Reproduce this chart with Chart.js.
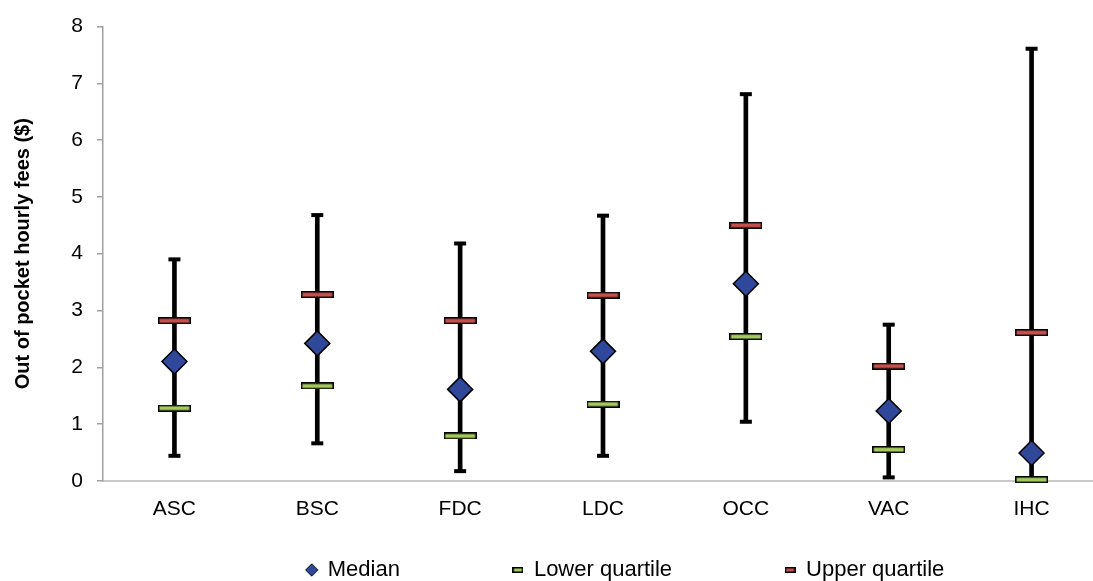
<!DOCTYPE html>
<html>
<head>
<meta charset="utf-8">
<title>Out of pocket hourly fees</title>
<script src="https://cdn.jsdelivr.net/npm/chart.js@4.4.1/dist/chart.umd.min.js"></script>
<style>
    html, body { margin: 0; padding: 0; background: #fff; overflow: hidden; }
    #wrap { width: 1093px; height: 581px; overflow: hidden; }
</style>
</head>
<body>
<div id="wrap"><canvas id="chartFees" width="1103" height="581"></canvas></div>
<script>
const categories = ['ASC', 'BSC', 'FDC', 'LDC', 'OCC', 'VAC', 'IHC'];
const minimums = [0.44, 0.66, 0.17, 0.44, 1.04, 0.06, 0.00];
const maximums = [3.90, 4.68, 4.18, 4.67, 6.81, 2.75, 7.61];
const lowerQuartile = [1.28, 1.67, 0.79, 1.35, 2.54, 0.55, 0.02];
const medians = [2.10, 2.42, 1.61, 2.28, 3.47, 1.23, 0.49];
const upperQuartile = [2.82, 3.28, 2.82, 3.27, 4.50, 2.02, 2.61];
const yTicks = [0, 1, 2, 3, 4, 5, 6, 7, 8];

const BLUE = '#30489a';
const GREEN = '#a3c95f';
const RED = '#c6504b';

Chart.defaults.font.family = "'Liberation Sans', Arial, sans-serif";
Chart.defaults.color = '#000';

// little bar used as marker for the quartiles
function quartileMark(color, w, h) {
    const c = document.createElement('canvas');
    c.width = w;
    c.height = h;
    const ctx = c.getContext('2d');
    ctx.fillStyle = color;
    ctx.fillRect(1, 1, w - 2, h - 2);
    ctx.strokeStyle = '#000';
    ctx.lineWidth = 1.5;
    ctx.strokeRect(0.75, 0.75, w - 1.5, h - 1.5);
    return c;
}

function diamondMark(size) {
    const c = document.createElement('canvas');
    c.width = size;
    c.height = size;
    const ctx = c.getContext('2d');
    const m = size / 2;
    ctx.beginPath();
    ctx.moveTo(m, 0.8);
    ctx.lineTo(size - 0.8, m);
    ctx.lineTo(m, size - 0.8);
    ctx.lineTo(0.8, m);
    ctx.closePath();
    ctx.fillStyle = BLUE;
    ctx.fill();
    ctx.strokeStyle = '#000';
    ctx.lineWidth = 1;
    ctx.stroke();
    return c;
}

const lowerMark = quartileMark(GREEN, 33, 7);
const upperMark = quartileMark(RED, 33, 7);

// legend sits a bit to the right like in the original sheet
const moveLegend = {
    id: 'moveLegend',
    afterLayout(chart) {
        const lg = chart.legend;
        const dx = 74;
        lg.left += dx;
        lg.right += dx;
        lg.top = 559 - lg.options.labels.padding;
        lg.bottom = chart.height;
    }
};

const ctx = document.getElementById('chartFees').getContext('2d');

new Chart(ctx, {
    type: 'bar',
    data: {
        labels: categories,
        datasets: [
            {
                type: 'line',
                label: 'Median',
                data: medians,
                showLine: false,
                pointStyle: 'rectRot',
                pointRadius: 12.5,
                pointBackgroundColor: BLUE,
                pointBorderColor: '#000',
                pointBorderWidth: 1.5,
                clip: false,
                order: 1
            },
            {
                type: 'line',
                label: 'Lower quartile',
                data: lowerQuartile,
                showLine: false,
                pointStyle: lowerMark,
                clip: false,
                order: 2
            },
            {
                type: 'line',
                label: 'Upper quartile',
                data: upperQuartile,
                showLine: false,
                pointStyle: upperMark,
                clip: false,
                order: 3
            },
            {
                type: 'line',
                label: 'Max',
                data: maximums,
                showLine: false,
                pointStyle: 'line',
                pointRadius: 6,
                pointBorderColor: '#000',
                pointBorderWidth: 4,
                clip: false,
                order: 4
            },
            {
                type: 'line',
                label: 'Min',
                data: minimums,
                showLine: false,
                pointStyle: 'line',
                pointRadius: 6,
                pointBorderColor: '#000',
                pointBorderWidth: 4,
                clip: false,
                order: 5
            },
            {
                label: 'Range',
                data: minimums.map((v, i) => [v, maximums[i]]),
                backgroundColor: '#000',
                borderWidth: 0,
                barThickness: 4,
                clip: false,
                order: 6
            }
        ]
    },
    options: {
        responsive: false,
        maintainAspectRatio: false,
        animation: false,
        events: [],
        layout: { autoPadding: false, padding: { top: 24, right: 0, bottom: 0, left: 0 } },
        plugins: {
            tooltip: { enabled: false },
            legend: {
                position: 'bottom',
                maxHeight: 43,
                labels: {
                    usePointStyle: true,
                    boxWidth: 10,
                    boxHeight: 13,
                    padding: 113,
                    font: { size: 22 },
                    color: '#000',
                    generateLabels: () => [
                        { text: 'Median', pointStyle: diamondMark(14), datasetIndex: 0, hidden: false, lineWidth: 0 },
                        { text: 'Lower quartile', pointStyle: quartileMark(GREEN, 11, 6), datasetIndex: 1, hidden: false, lineWidth: 0 },
                        { text: 'Upper quartile', pointStyle: quartileMark(RED, 11, 6), datasetIndex: 2, hidden: false, lineWidth: 0 }
                    ]
                }
            }
        },
        scales: {
            x: {
                grid: { display: false, drawTicks: false },
                border: { display: true, color: '#c8c8c8', width: 2 },
                ticks: { font: { size: 21 }, color: '#000', padding: 16 }
            },
            y: {
                min: 0,
                max: 8,
                afterBuildTicks: s => { s.ticks = yTicks.map(v => ({ value: v })); },
                afterFit: s => { s.width = 103; },
                grid: { drawOnChartArea: false, drawTicks: true, tickLength: 6, color: '#a0a0a0', lineWidth: 1.5 },
                border: { display: true, color: '#a0a0a0', width: 1.5 },
                ticks: { font: { size: 21 }, color: '#000', padding: 14 },
                title: {
                    display: true,
                    text: 'Out of pocket hourly fees ($)',
                    font: { size: 20, weight: 'bold' },
                    color: '#000',
                    padding: { top: 11, bottom: 4 }
                }
            }
        }
    },
    plugins: [moveLegend]
});
</script>
</body>
</html>
